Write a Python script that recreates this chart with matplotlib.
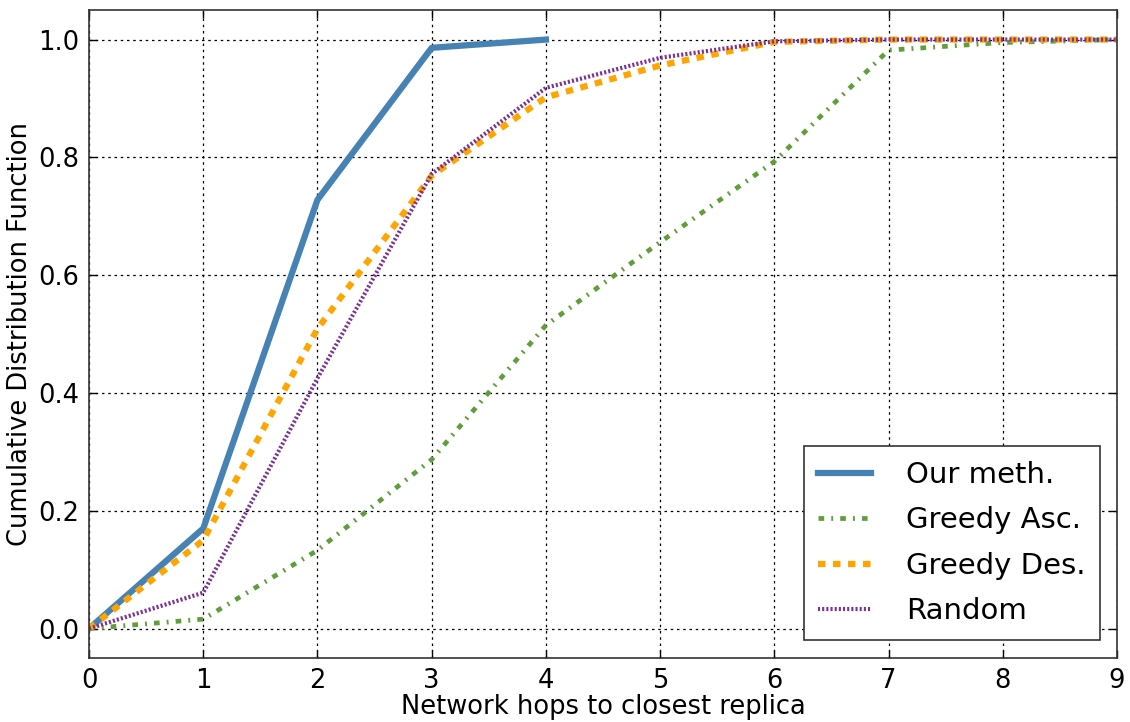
import matplotlib
matplotlib.use("Agg")
import matplotlib.pyplot as plt

hops = [0, 1, 2, 3, 4, 5, 6, 7, 8, 9]
our_hops = [0, 1, 2, 3, 4]
our_meth = [0.0, 0.17, 0.728, 0.986, 1.0]
greedy_asc = [0.0, 0.016, 0.133, 0.287, 0.515, 0.656, 0.793, 0.982, 0.995, 1.0]
greedy_des = [0.0, 0.150, 0.509, 0.769, 0.902, 0.956, 0.996, 1.0, 1.0, 1.0]
random_ = [0.0, 0.061, 0.425, 0.772, 0.918, 0.969, 0.997, 1.0, 1.0, 1.0]
labels = ["Our meth.", "Greedy Asc.", "Greedy Des.", "Random"]
xticks = list(range(10))
yticks = [0.0, 0.2, 0.4, 0.6, 0.8, 1.0]

plt.rcParams['font.family'] = ['DejaVu Sans']
fig = plt.figure(figsize=(11.3, 7.22), dpi=100)
ax = fig.add_axes([0.0788, 0.0886, 0.9097, 0.8974])

ax.plot(our_hops, our_meth, color='#4682b4', lw=4.5, ls='-', label=labels[0])
ax.plot(hops, greedy_asc, color='#5f9e3a', lw=3.4, ls=(0, (1.2, 1.5, 0.4, 1.5)), label=labels[1])
ax.plot(hops, greedy_des, color='#ffa500', lw=4.5, ls=(0, (1.2, 1.2)), label=labels[2])
ax.plot(hops, random_, color='#7b3294', lw=3.0, ls=(0, (0.5, 0.5)), label=labels[3])

ax.set_xlim(0, 9)
ax.set_ylim(-0.05, 1.05)
ax.set_xticks(xticks)
ax.set_yticks(yticks)
ax.set_yticklabels([f"{v:.1f}" for v in yticks])
ax.tick_params(direction='in', top=True, right=True, labelsize=18.5, length=6, width=1, pad=7)
ax.grid(True, color='black', ls=(0, (2, 3)), lw=0.9)
for s in ax.spines.values():
    s.set_color('#333333')
    s.set_linewidth(1.2)

ax.set_xlabel("Network hops to closest replica", fontsize=18.5, labelpad=0)
ax.set_ylabel("Cumulative Distribution Function", fontsize=18.5, labelpad=4)

leg = ax.legend(loc='lower right', fontsize=21, fancybox=False, framealpha=1,
                edgecolor='#333333', handlelength=1.8, handletextpad=1.2,
                borderpad=0.5, labelspacing=0.6, borderaxespad=0,
                bbox_to_anchor=(0.9835, 0.028))
leg.get_frame().set_linewidth(1.2)

fig.savefig("out.png", dpi=100)
